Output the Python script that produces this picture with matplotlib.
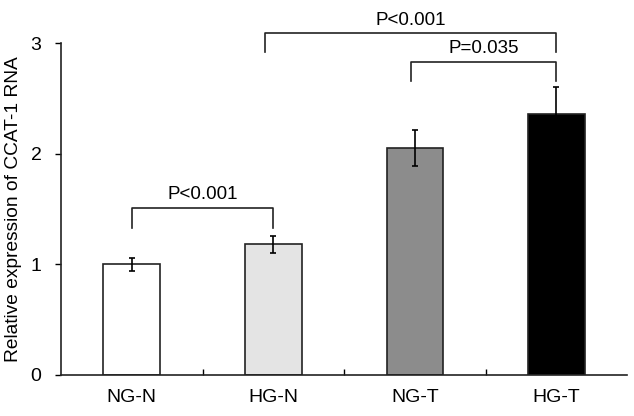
import matplotlib.pyplot as plt

plt.rcParams['font.family'] = ['Liberation Sans', 'DejaVu Sans']

groups = ["NG-N", "HG-N", "NG-T", "HG-T"]
means = [1.00, 1.18, 2.05, 2.36]
errors = [0.06, 0.08, 0.16, 0.24]
fills = ["white", "#e4e4e4", "#8c8c8c", "black"]

# (x1, x2, bar height, leg bottom, label)
brackets = [
    (0.0, 1.0, 1.51, 1.33, "P<0.001"),
    (0.94, 3.0, 3.09, 2.92, "P<0.001"),
    (1.97, 3.0, 2.83, 2.66, "P=0.035"),
]

fig = plt.figure(figsize=(6.34, 4.16), dpi=100)
ax = fig.add_axes([0.0962, 0.0986, 0.893, 0.798])

x = list(range(len(groups)))
ax.bar(x, means, width=0.4, color=fills, edgecolor="#222222", linewidth=1.2, zorder=2)
ax.errorbar(x, means, yerr=errors, fmt="none", ecolor="black", elinewidth=1.2,
            capsize=2, capthick=1.2, zorder=3)

for x1, x2, top, leg, label in brackets:
    ax.plot([x1, x1, x2, x2], [leg, top, top, leg], color="#222222", lw=1.2,
            clip_on=False, zorder=3)
    ax.text((x1 + x2) / 2, top + 0.04, label, ha="center", va="bottom",
            fontsize=13.5, clip_on=False)

ax.set_xlim(-0.5, 3.5)
ax.set_ylim(0, 3)
ax.set_yticks([0, 1, 2, 3])
ax.set_xticks(x)
ax.set_xticklabels(groups)
ax.set_xticks([0.5, 1.5, 2.5], minor=True)
ax.tick_params(axis="x", which="major", length=0, pad=10, labelsize=14)
ax.tick_params(axis="x", which="minor", direction="in", length=4, width=1)
ax.tick_params(axis="y", direction="out", length=4, width=1, pad=10, labelsize=14)
ax.set_ylabel("Relative expression of CCAT-1 RNA", fontsize=13.8, labelpad=6)

for side in ["top", "right"]:
    ax.spines[side].set_visible(False)
for side in ["left", "bottom"]:
    ax.spines[side].set_linewidth(1.2)
    ax.spines[side].set_color("#222222")

plt.savefig("out.png", dpi=100)
